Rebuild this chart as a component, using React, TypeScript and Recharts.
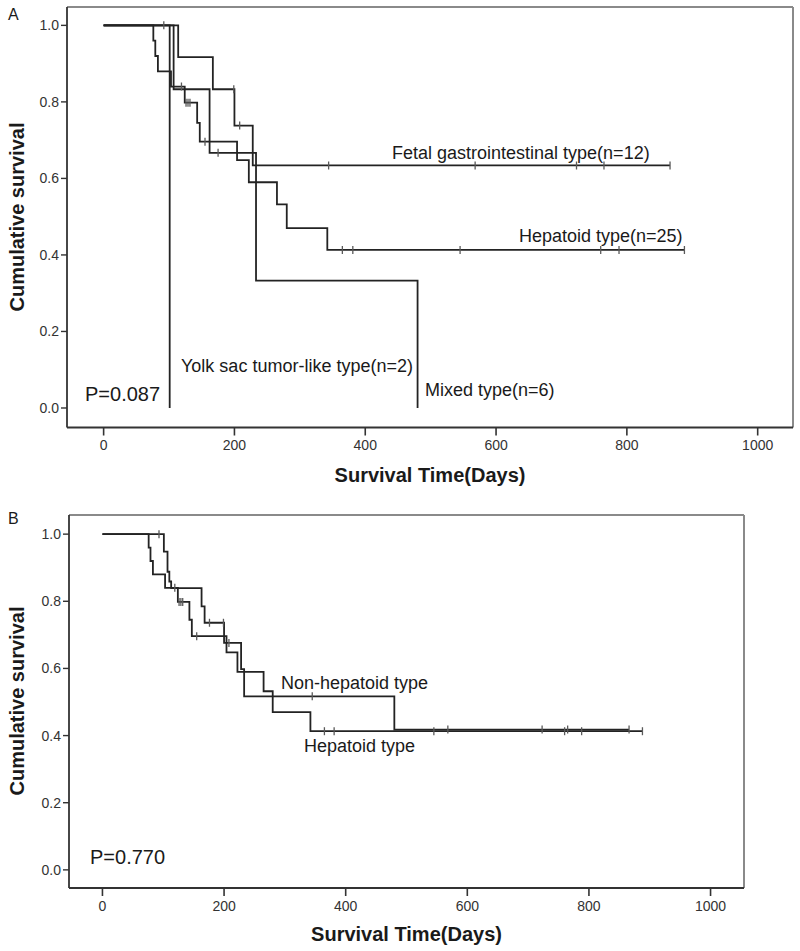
import React from 'react';
import { LineChart, Line, XAxis, YAxis, ReferenceLine } from 'recharts';

const FONT = '"Liberation Sans", Arial, Helvetica, sans-serif';

// ---- axis ticks ----
const dayTicks = [0, 200, 400, 600, 800, 1000];
const survTicks = [0, 0.2, 0.4, 0.6, 0.8, 1.0];

// ---- Panel A : Hepatoid type (n=25) ----
const hepTimes = [0, 76, 79, 83, 103, 124, 143, 147, 204, 222, 265, 280, 342, 888];
const hepSurv = [1, 0.96, 0.92, 0.88, 0.84, 0.798, 0.745, 0.696, 0.648, 0.59, 0.532, 0.47, 0.413, 0.413];
const hepCensorTimes = [119, 126, 129, 132, 155, 365, 381, 545, 760, 788, 888];
const hepCensorSurv = [0.84, 0.798, 0.798, 0.798, 0.696, 0.413, 0.413, 0.413, 0.413, 0.413, 0.413];

// ---- Panel A : Fetal gastrointestinal type (n=12) ----
const fetTimes = [0, 114, 167, 200, 228, 866];
const fetSurv = [1, 0.917, 0.833, 0.738, 0.634, 0.634];
const fetCensorTimes = [92, 199, 208, 344, 568, 723, 765, 866];
const fetCensorSurv = [1, 0.833, 0.738, 0.634, 0.634, 0.634, 0.634, 0.634];

// ---- Panel A : Mixed type (n=6) ----
const mixTimes = [0, 107, 162, 233, 480];
const mixSurv = [1, 0.833, 0.667, 0.333, 0];
const mixCensorTimes = [175];
const mixCensorSurv = [0.667];

// ---- Panel A : Yolk sac tumor-like type (n=2) ----
const yolkTimes = [0, 101];
const yolkSurv = [1, 0];

// ---- Panel B : Non-hepatoid type ----
const nonTimes = [0, 101, 107, 110, 113, 163, 168, 200, 228, 233, 480, 866];
const nonSurv = [1, 0.948, 0.888, 0.859, 0.839, 0.785, 0.736, 0.676, 0.598, 0.517, 0.418, 0.418];
const nonCensorTimes = [93, 176, 199, 208, 345, 568, 723, 765, 866];
const nonCensorSurv = [1, 0.736, 0.736, 0.676, 0.517, 0.418, 0.418, 0.418, 0.418];

const rows = (ts: number[], ss: number[]) => ts.map((t, i) => ({ t, s: ss[i] }));

const LINE = '#232323';

const censorDot = (p: any) => {
  if (p.cx == null || p.cy == null) return <g key={`k${p.index}`} />;
  return (
    <line
      key={`c${p.index}`}
      x1={p.cx}
      x2={p.cx}
      y1={p.cy - 4}
      y2={p.cy + 4}
      stroke="#5a5a5a"
      strokeWidth={1.3}
    />
  );
};

const stepLine = (key: string, ts: number[], ss: number[]) => (
  <Line
    key={key}
    data={rows(ts, ss)}
    dataKey="s"
    type="stepAfter"
    stroke={LINE}
    strokeWidth={1.8}
    dot={false}
    activeDot={false}
    isAnimationActive={false}
    legendType="none"
  />
);

const censorLine = (key: string, ts: number[], ss: number[]) => (
  <Line
    key={key}
    data={rows(ts, ss)}
    dataKey="s"
    type="linear"
    stroke="none"
    strokeWidth={0}
    dot={censorDot}
    activeDot={false}
    isAnimationActive={false}
    legendType="none"
  />
);

const tickStyle = { fontSize: 14, fill: '#333', fontFamily: FONT };

type PanelProps = {
  width: number;
  height: number;
  margin: { top: number; right: number; bottom: number; left: number };
  yWidth: number;
  xHeight: number;
  xDomain: [number, number];
  yDomain: [number, number];
  children: React.ReactNode;
};

function Panel({ width, height, margin, yWidth, xHeight, xDomain, yDomain, children }: PanelProps) {
  return (
    <LineChart width={width} height={height} margin={margin}>
      <XAxis
        dataKey="t"
        type="number"
        domain={xDomain}
        ticks={dayTicks}
        allowDataOverflow
        height={xHeight}
        tickSize={8}
        tickMargin={5}
        tick={tickStyle}
        axisLine={{ stroke: '#333', strokeWidth: 1.8 }}
        tickLine={{ stroke: '#333', strokeWidth: 1.6 }}
      />
      <YAxis
        type="number"
        domain={yDomain}
        ticks={survTicks}
        allowDataOverflow
        width={yWidth}
        tickSize={6}
        tickMargin={2}
        tick={tickStyle}
        tickFormatter={(v: number) => v.toFixed(1)}
        axisLine={{ stroke: '#333', strokeWidth: 1.8 }}
        tickLine={{ stroke: '#333', strokeWidth: 1.4 }}
      />
      <ReferenceLine y={yDomain[1]} stroke="#8a8a8a" strokeWidth={2} />
      <ReferenceLine x={xDomain[1]} stroke="#8a8a8a" strokeWidth={2} />
      {children}
    </LineChart>
  );
}

const txt = { fontFamily: FONT, fill: '#1a1a1a' } as const;

export default function App() {
  return (
    <div style={{ position: 'absolute', left: 0, top: 0, width: 800, height: 951, background: '#fff', overflow: 'hidden' }}>
      <div style={{ position: 'absolute', left: 0, top: 0 }}>
        <Panel
          width={800}
          height={490}
          margin={{ top: 7, right: 7, bottom: 0, left: 0 }}
          yWidth={67}
          xHeight={62.5}
          xDomain={[-56, 1054]}
          yDomain={[-0.051, 1.048]}
        >
          {stepLine('hep', hepTimes, hepSurv)}
          {stepLine('fet', fetTimes, fetSurv)}
          {stepLine('mix', mixTimes, mixSurv)}
          {stepLine('yolk', yolkTimes, yolkSurv)}
          {censorLine('hepc', hepCensorTimes, hepCensorSurv)}
          {censorLine('fetc', fetCensorTimes, fetCensorSurv)}
          {censorLine('mixc', mixCensorTimes, mixCensorSurv)}
        </Panel>
      </div>
      <div style={{ position: 'absolute', left: 0, top: 500 }}>
        <Panel
          width={800}
          height={451}
          margin={{ top: 15, right: 56, bottom: 0, left: 0 }}
          yWidth={69}
          xHeight={63}
          xDomain={[-55, 1055]}
          yDomain={[-0.054, 1.057]}
        >
          {stepLine('hepB', hepTimes, hepSurv)}
          {stepLine('non', nonTimes, nonSurv)}
          {censorLine('hepBc', hepCensorTimes, hepCensorSurv)}
          {censorLine('nonc', nonCensorTimes, nonCensorSurv)}
        </Panel>
      </div>
      <svg
        width={800}
        height={951}
        style={{ position: 'absolute', left: 0, top: 0, pointerEvents: 'none' }}
      >
        {/* Panel A annotations */}
        <text x={8} y={20} fontSize={16} {...txt}>A</text>
        <text transform="translate(24,217) rotate(-90)" textAnchor="middle" fontSize={20} fontWeight="bold" {...txt}>
          Cumulative survival
        </text>
        <text x={430} y={482} textAnchor="middle" fontSize={20} fontWeight="bold" {...txt}>
          Survival Time(Days)
        </text>
        <text x={392} y={159} fontSize={18} {...txt}>Fetal gastrointestinal type(n=12)</text>
        <text x={519} y={242} fontSize={18} {...txt}>Hepatoid type(n=25)</text>
        <text x={181} y={372} fontSize={18} {...txt}>Yolk sac tumor-like type(n=2)</text>
        <text x={425} y={396} fontSize={18} {...txt}>Mixed type(n=6)</text>
        <text x={85} y={401} fontSize={20} {...txt}>P=0.087</text>

        {/* Panel B annotations */}
        <text x={8} y={524} fontSize={16} {...txt}>B</text>
        <text transform="translate(24,701) rotate(-90)" textAnchor="middle" fontSize={20} fontWeight="bold" {...txt}>
          Cumulative survival
        </text>
        <text x={406.5} y={941} textAnchor="middle" fontSize={20} fontWeight="bold" {...txt}>
          Survival Time(Days)
        </text>
        <text x={281} y={689} fontSize={18} {...txt}>Non-hepatoid type</text>
        <text x={304} y={752} fontSize={18} {...txt}>Hepatoid type</text>
        <text x={90} y={864} fontSize={20} {...txt}>P=0.770</text>
      </svg>
    </div>
  );
}
